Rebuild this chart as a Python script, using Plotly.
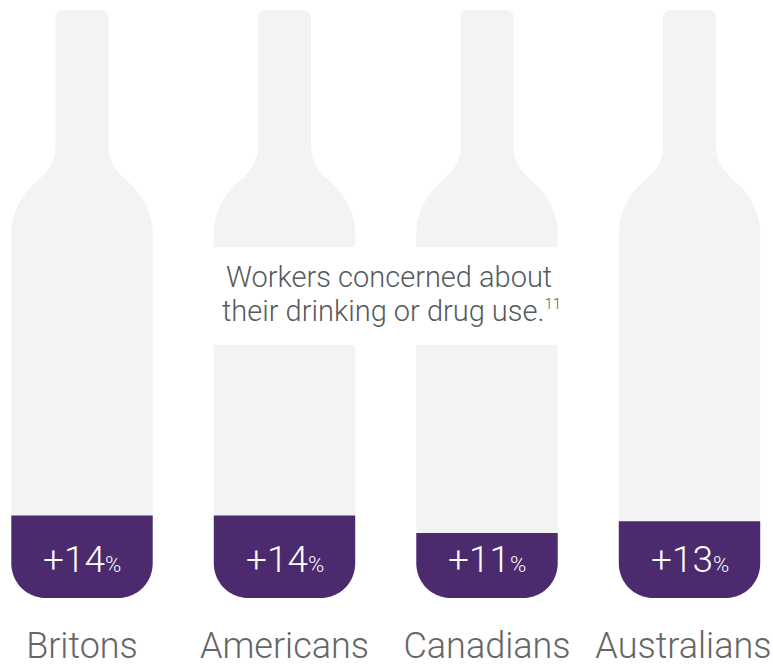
import plotly.graph_objects as go

groups = ["Britons", "Americans", "Canadians", "Australians"]
increase_pct = [14, 14, 11, 13]
caption_lines = ["Workers concerned about", "their drinking or drug use."]
footnote = "11"

PX_PER_PCT = 5.9      # vertical scale of the bottle fill
PX_PER_SLOT = 202.5   # horizontal distance between bottles
FONT = "Roboto"
GREY = "#f3f3f3"
PURPLE = "#4b2a6e"


def bezier(p0, p1, p2, p3, n=24):
    pts = []
    for k in range(n + 1):
        t = k / n
        u = 1 - t
        pts.append((
            u**3 * p0[0] + 3 * u**2 * t * p1[0] + 3 * u * t**2 * p2[0] + t**3 * p3[0],
            u**3 * p0[1] + 3 * u**2 * t * p1[1] + 3 * u * t**2 * p2[1] + t**3 * p3[1],
        ))
    return pts


def bottle_profile():
    """Right half of a bottle from base to cap, as (half width, height) in px."""
    pts = [(0, 0)]
    pts += bezier((36, 0), (55, 0), (70.7, 15), (70.7, 35))
    pts += bezier((70.7, 365), (70.7, 385), (60, 405), (44, 418))
    pts += bezier((44, 418), (33, 427), (26.5, 438), (26.5, 452))
    pts += bezier((26.5, 581), (26.5, 585), (23, 588), (19.5, 588), 10)
    pts += [(0, 588)]
    return pts


PROFILE = bottle_profile()


def outline(centre, level=None):
    """Closed bottle polygon, cut off horizontally at `level` percent when given."""
    half = []
    for (w0, h0), (w1, h1) in zip(PROFILE, PROFILE[1:] + [PROFILE[-1]]):
        pct0, pct1 = h0 / PX_PER_PCT, h1 / PX_PER_PCT
        if level is None or pct0 <= level:
            half.append((w0, pct0))
        if level is not None and pct0 <= level < pct1:
            half.append((w0 + (w1 - w0) * (level - pct0) / (pct1 - pct0), level))
            half.append((0, level))
            break
    xs = [centre + w / PX_PER_SLOT for w, _ in half] + [centre - w / PX_PER_SLOT for w, _ in reversed(half)]
    ys = [p for _, p in half] + [p for _, p in reversed(half)]
    return xs, ys


fig = go.Figure()

# empty bottles behind, filled portion on top
for i, name in enumerate(groups):
    xs, ys = outline(i)
    fig.add_trace(go.Scatter(x=xs, y=ys, mode="lines", fill="toself", fillcolor=GREY,
                             line=dict(width=0, simplify=False), hoverinfo="skip", showlegend=False))
for i, (name, value) in enumerate(zip(groups, increase_pct)):
    xs, ys = outline(i, value)
    fig.add_trace(go.Scatter(x=xs, y=ys, mode="lines", fill="toself", fillcolor=PURPLE,
                             line=dict(width=0, simplify=False), name=name, hoverinfo="skip", showlegend=False))

annotations = []
for i, value in enumerate(increase_pct):
    annotations.append(dict(
        x=i, y=0, yshift=39, yanchor="middle", xanchor="center", showarrow=False,
        text=f'+{value}<span style="font-size:22px">%</span>',
        font=dict(family=FONT, size=37, color="#ffffff", weight=300),
    ))

# caption sits in a white band across the two middle bottles
caption_font = dict(family=FONT, size=29, color="#555a5e", weight=300)
annotations.append(dict(
    x=1.5, xshift=3, y=(598 - 277) / PX_PER_PCT, yanchor="middle", xanchor="center", showarrow=False,
    text=caption_lines[0], font=caption_font,
))
annotations.append(dict(
    x=1.5, xshift=6, y=(598 - 311) / PX_PER_PCT, yanchor="middle", xanchor="center", showarrow=False,
    text=f'{caption_lines[1]}<sup><span style="font-size:15px">{footnote}</span></sup>',
    font=caption_font,
))

fig.update_layout(
    width=773, height=668,
    margin=dict(l=0, r=0, t=0, b=48, autoexpand=False),
    paper_bgcolor="#ffffff", plot_bgcolor="#ffffff",
    annotations=annotations,
    shapes=[dict(type="rect", layer="above", x0=0.55, x1=2.45,
                 y0=(598 - 345) / PX_PER_PCT, y1=(598 - 247) / PX_PER_PCT,
                 fillcolor="#ffffff", line=dict(width=0))],
    xaxis=dict(range=[-82 / PX_PER_SLOT, (773 - 82) / PX_PER_SLOT], showgrid=False, zeroline=False,
               showline=False, ticks="", ticklabelstandoff=1, automargin=False,
               tickvals=[0, 1, 2, 2.97], ticktext=groups,
               tickfont=dict(family=FONT, size=36, color="#666666", weight=300)),
    yaxis=dict(range=[(598 - 620) / PX_PER_PCT, 598 / PX_PER_PCT], visible=False),
)

fig.write_html("out.html", config=dict(displayModeBar=False))
